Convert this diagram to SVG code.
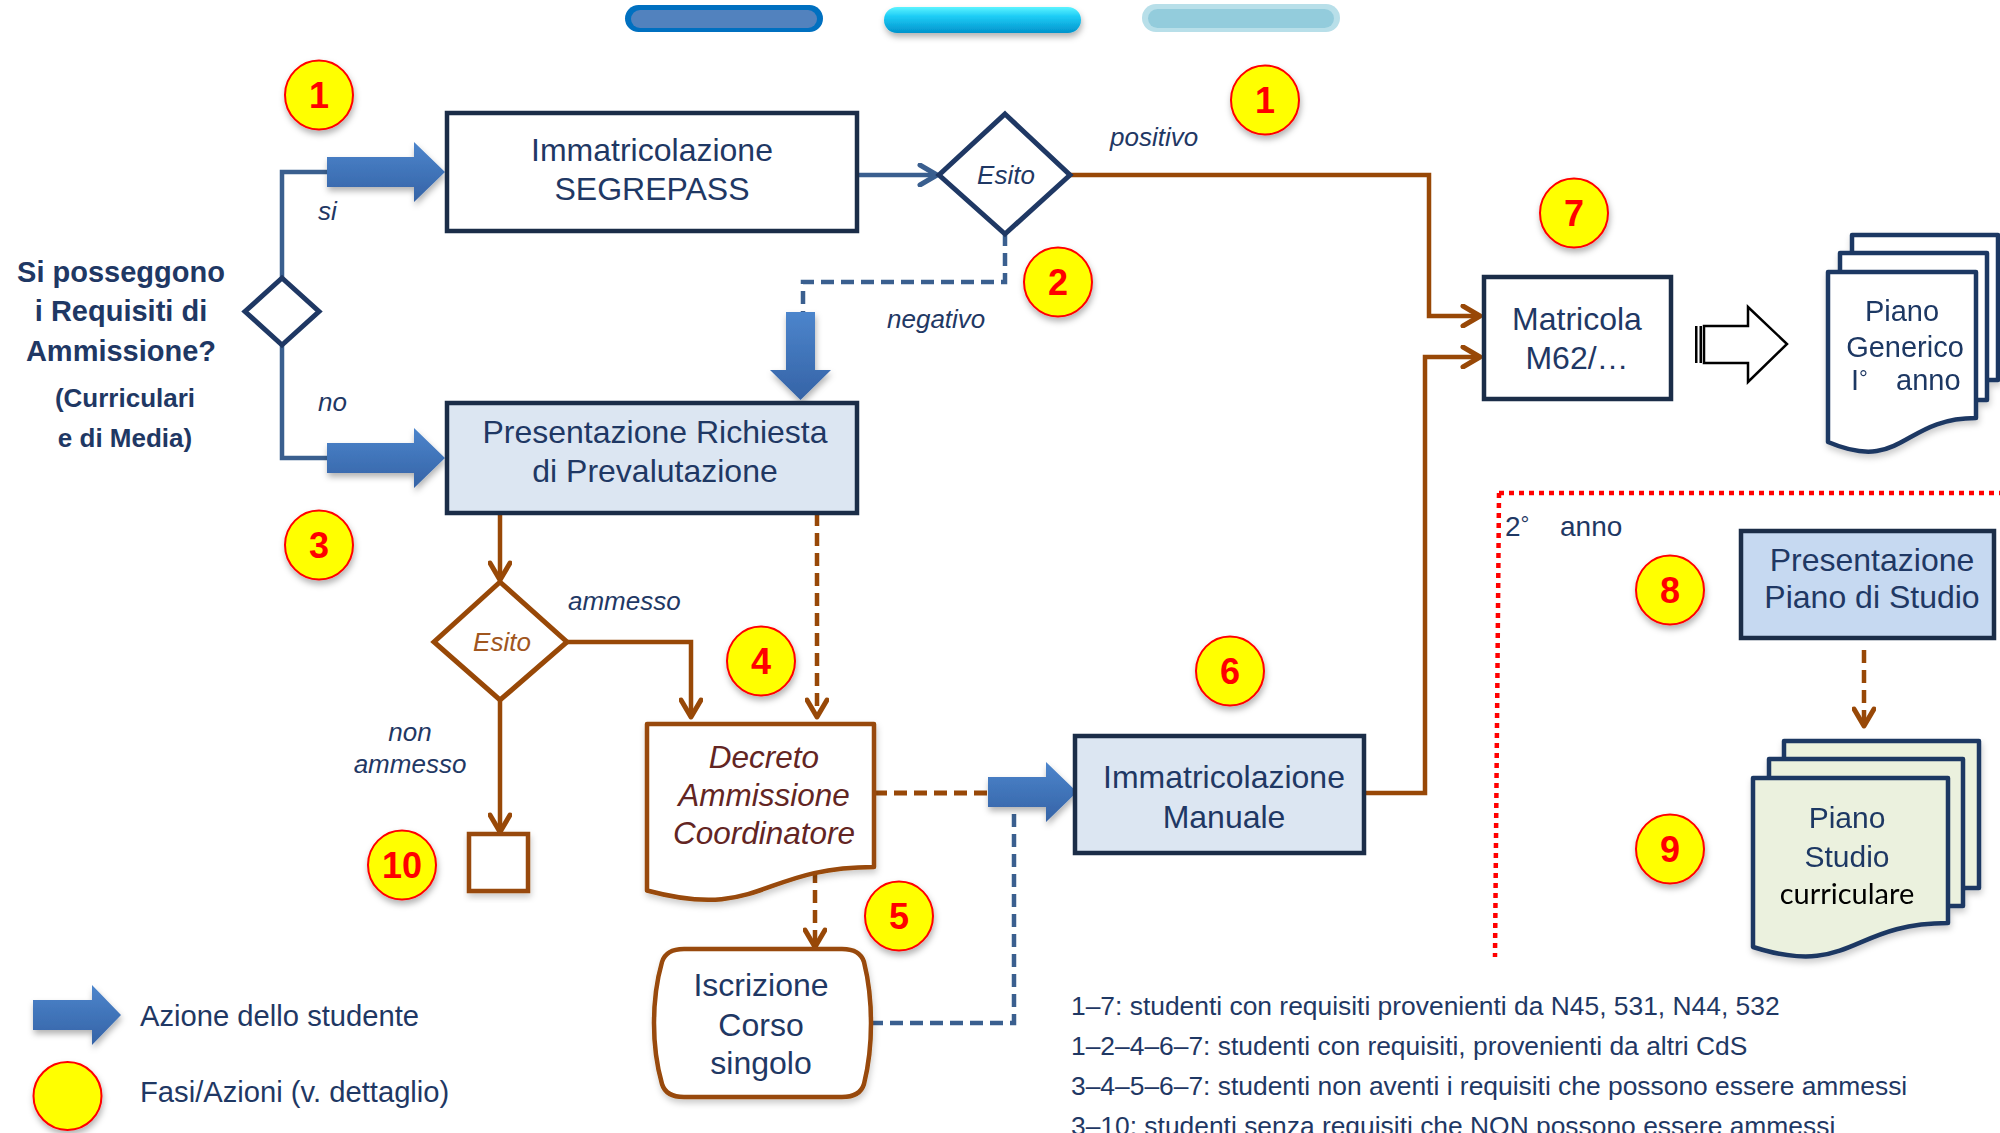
<svg xmlns="http://www.w3.org/2000/svg" width="2000" height="1133" viewBox="0 0 2000 1133">
<defs>
<style>
.t{font-family:"Liberation Sans",Arial,sans-serif;fill:#1F3864}
.tb{font-size:32px;text-anchor:middle}
.it{font-style:italic;font-size:26px}
.q{font-weight:bold;text-anchor:middle}
.bx{stroke:#1B2D48;stroke-width:4.5}
.doc{stroke:#1F3864;stroke-width:4.5;stroke-linejoin:round}
.br{fill:none;stroke:#984807;stroke-width:4.5}
.bl{fill:none;stroke:#3A5F8F;stroke-width:4.5}
.dash{stroke-dasharray:13 7}
.blk{fill:url(#gBlk);filter:url(#sh)}
.cc{fill:#FFFF00;stroke:#FF0000;stroke-width:2;filter:url(#sh)}
.cn{font-family:"Liberation Sans",Arial,sans-serif;font-weight:bold;font-size:36px;fill:#FF0000;text-anchor:middle}
.note{font-size:26.4px}
</style>
<linearGradient id="gBlk" x1="0" y1="0" x2="0" y2="1">
<stop offset="0" stop-color="#4C85CC"/>
<stop offset="1" stop-color="#3563A6"/>
</linearGradient>
<linearGradient id="gCy" x1="0" y1="0" x2="0" y2="1">
<stop offset="0" stop-color="#5CF4FF"/>
<stop offset="0.35" stop-color="#1FCDF6"/>
<stop offset="1" stop-color="#0093CC"/>
</linearGradient>
<filter id="sh" x="-30%" y="-30%" width="170%" height="180%">
<feDropShadow dx="1" dy="4" stdDeviation="3" flood-color="#000" flood-opacity="0.3"/>
</filter>
<filter id="shs" x="-10%" y="-10%" width="130%" height="130%">
<feDropShadow dx="1" dy="4" stdDeviation="3" flood-color="#000" flood-opacity="0.2"/>
</filter>
<marker id="aBr" markerUnits="userSpaceOnUse" viewBox="0 0 24 24" markerWidth="24" markerHeight="24" refX="21" refY="12" orient="auto">
<path d="M4,2 L21,12 L4,22" fill="none" stroke="#984807" stroke-width="5" stroke-linecap="round" stroke-linejoin="round"/>
</marker>
<marker id="aBl" markerUnits="userSpaceOnUse" viewBox="0 0 24 24" markerWidth="24" markerHeight="24" refX="21" refY="12" orient="auto">
<path d="M4,2 L21,12 L4,22" fill="none" stroke="#3A5F8F" stroke-width="5" stroke-linecap="round" stroke-linejoin="round"/>
</marker>
</defs>
<rect width="2000" height="1133" fill="#FFFFFF"/>

<!-- top bars -->
<g id="bars">
<rect x="625" y="5" width="198" height="27" rx="13.5" fill="#0070C0"/>
<rect x="631" y="10" width="186" height="18" rx="9" fill="#5282BE"/>
<rect x="884" y="7" width="197" height="26" rx="13" fill="url(#gCy)" filter="url(#sh)"/>
<rect x="1142" y="4" width="198" height="28" rx="14" fill="#B8DFE9"/>
<rect x="1148" y="9" width="186" height="19" rx="9.5" fill="#93CCDC"/>
</g>

<!-- connectors -->
<g id="connectors">
<path class="bl" d="M282,278 V172 H330"/>
<path class="bl" d="M282,345 V458 H330"/>
<path class="bl" d="M857,175 H937" marker-end="url(#aBl)"/>
<path class="br" d="M1070,175 H1429 V316 H1480" marker-end="url(#aBr)"/>
<path class="bl dash" d="M1005,233 V282 H803 V314"/>
<path class="br" d="M500,513 V580" marker-end="url(#aBr)"/>
<path class="br" d="M567,642 H691 V717" marker-end="url(#aBr)"/>
<path class="br dash" d="M817,513 V717" marker-end="url(#aBr)"/>
<path class="br" d="M500,700 V832" marker-end="url(#aBr)"/>
<path class="br dash" d="M815,870 V947" marker-end="url(#aBr)"/>
<path class="br dash" d="M874,793 H992" style="stroke-width:5"/>
<path class="bl dash" d="M870,1023 H1014 V808"/>
<path class="br" d="M1364,793 H1425 V357 H1480" marker-end="url(#aBr)"/>
<path class="br dash" d="M1864,650 V726" marker-end="url(#aBr)"/>
<path class="blk" d="M327,157 H414 V142 L445,172 L414,202 V187 H327 Z"/>
<path class="blk" d="M327,443 H414 V428 L445,458 L414,488 V473 H327 Z"/>
<path class="blk" d="M786,312 H815 V370 H831 L800.5,400 L770,370 H786 Z"/>
<path class="blk" d="M988,777 H1046 V762 L1077,792 L1046,822 V807 H988 Z"/>
<g id="hollow-arrow">
<rect x="1695" y="326" width="2.5" height="37" fill="#000"/>
<rect x="1699.5" y="326" width="2.5" height="37" fill="#000"/>
<path d="M1704,326 H1748 V307 L1787,344 L1748,382 V363 H1704 Z" fill="#FFFFFF" stroke="#000" stroke-width="2.5" stroke-linejoin="miter"/>
</g>
</g>

<!-- question -->
<g id="question">
<text class="t q" x="121" y="282" font-size="29">Si posseggono</text>
<text class="t q" x="121" y="321" font-size="29">i Requisiti di</text>
<text class="t q" x="121" y="361" font-size="29">Ammissione?</text>
<text class="t q" x="125" y="407" font-size="26">(Curriculari</text>
<text class="t q" x="125" y="447" font-size="26">e di Media)</text>
<path d="M282,278 L319,311.5 L282,345 L245,311.5 Z" fill="#FFFFFF" stroke="#1F3864" stroke-width="5" stroke-linejoin="miter"/>
<text class="t it" x="318" y="220">si</text>
<text class="t it" x="318" y="411">no</text>
</g>

<g id="segrepass">
<rect class="bx" x="447" y="113" width="410" height="118" fill="#FFFFFF"/>
<text class="t tb" x="652" y="161">Immatricolazione</text>
<text class="t tb" x="652" y="200">SEGREPASS</text>
</g>

<g id="esito1">
<path d="M1005,114 L1070,175 L1005,234 L939,175 Z" fill="#FFFFFF" stroke="#1F3864" stroke-width="5"/>
<text class="t it" x="1006" y="184" text-anchor="middle">Esito</text>
<text class="t it" x="1110" y="146">positivo</text>
<text class="t it" x="887" y="328">negativo</text>
</g>

<g id="prevalutazione">
<rect class="bx" x="447" y="403" width="410" height="110" fill="#DCE6F2"/>
<text class="t tb" x="655" y="443">Presentazione Richiesta</text>
<text class="t tb" x="655" y="482">di Prevalutazione</text>
</g>

<g id="esito2">
<path d="M500,582 L567,642 L500,700 L434,642 Z" fill="#FFFFFF" stroke="#984807" stroke-width="5"/>
<text class="it" x="502" y="651" text-anchor="middle" style="font-family:'Liberation Sans',Arial,sans-serif;fill:#A0561E">Esito</text>
<text class="t it" x="568" y="610">ammesso</text>
<text class="t it" x="410" y="741" text-anchor="middle">non</text>
<text class="t it" x="410" y="773" text-anchor="middle">ammesso</text>
</g>

<g id="non-ammesso">
<rect x="469" y="834" width="59" height="57" fill="#FFFFFF" stroke="#984807" stroke-width="4.5" filter="url(#shs)"/>
</g>

<g id="decreto">
<path d="M647,724 H874 V867 C760.5,867 760.5,921 647,890.5 Z" fill="#FFFFFF" stroke="#984807" stroke-width="4.5" stroke-linejoin="round" filter="url(#shs)"/>
<text x="764" y="768" text-anchor="middle" style="font-family:'Liberation Sans',Arial,sans-serif;font-style:italic;font-size:31.5px;fill:#632523">Decreto</text>
<text x="764" y="806" text-anchor="middle" style="font-family:'Liberation Sans',Arial,sans-serif;font-style:italic;font-size:31.5px;fill:#632523">Ammissione</text>
<text x="764" y="844" text-anchor="middle" style="font-family:'Liberation Sans',Arial,sans-serif;font-style:italic;font-size:31.5px;fill:#632523">Coordinatore</text>
</g>

<g id="iscrizione">
<path d="M684,949 H842 Q860,949 864,962 Q871,990 871,1023 Q871,1056 864,1084 Q860,1097 842,1097 H684 Q666,1097 662,1084 Q654,1056 654,1023 Q654,990 662,962 Q666,949 684,949 Z" fill="#FFFFFF" stroke="#984807" stroke-width="4.5" filter="url(#shs)"/>
<text class="t tb" x="761" y="996">Iscrizione</text>
<text class="t tb" x="761" y="1036">Corso</text>
<text class="t tb" x="761" y="1074">singolo</text>
</g>

<g id="manuale">
<rect class="bx" x="1075" y="736" width="289" height="117" fill="#DCE6F2"/>
<text class="t tb" x="1224" y="788">Immatricolazione</text>
<text class="t tb" x="1224" y="828">Manuale</text>
</g>

<g id="matricola">
<rect class="bx" x="1484" y="277" width="187" height="122" fill="#FFFFFF"/>
<text class="t tb" x="1577" y="330" font-size="31">Matricola</text>
<text class="t tb" x="1577" y="369" font-size="31">M62/…</text>
</g>

<g id="piano-generico" filter="url(#shs)">
<rect class="doc" x="1852" y="235" width="146" height="145" fill="#FFFFFF"/>
<rect class="doc" x="1840" y="253" width="147" height="147" fill="#FFFFFF"/>
<path class="doc" d="M1828,272 H1976 V418 C1902,418 1902,473.5 1828,442 Z" fill="#FFFFFF"/>
<text class="t" x="1902" y="321" font-size="29" text-anchor="middle">Piano</text>
<text class="t" x="1905" y="357" font-size="29" text-anchor="middle">Generico</text>
<text class="t" x="1851" y="390" font-size="29">I<tspan font-size="22" dy="-4">°</tspan></text>
<text class="t" x="1896" y="390" font-size="29">anno</text>
</g>

<g id="secondo-anno">
<path d="M1499,493 H2000 M1499,493 L1495,957" fill="none" stroke="#FF0000" stroke-width="4.5" stroke-dasharray="5 5"/>
<text class="t" x="1505" y="536" font-size="28">2<tspan font-size="22" dy="-4">°</tspan></text>
<text class="t" x="1560" y="536" font-size="28">anno</text>
</g>

<g id="piano-studio-box">
<rect class="bx" x="1741" y="531" width="253" height="107" fill="#C6D9F1"/>
<text class="t tb" x="1872" y="571">Presentazione</text>
<text class="t tb" x="1872" y="608">Piano di Studio</text>
</g>

<g id="piano-studio-doc" filter="url(#shs)">
<rect class="doc" x="1784" y="741" width="195" height="147" fill="#EBF1DE"/>
<rect class="doc" x="1769" y="759" width="194" height="147" fill="#EBF1DE"/>
<path class="doc" d="M1753,778 H1948 V923 C1850.5,923 1850.5,978 1753,947 Z" fill="#EBF1DE"/>
<text class="t" x="1847" y="828" font-size="30" text-anchor="middle">Piano</text>
<text class="t" x="1847" y="867" font-size="30" text-anchor="middle">Studio</text>
<text x="1847" y="904" text-anchor="middle" style="font-family:Lato,'Open Sans',sans-serif;font-size:29px;fill:#000000">curriculare</text>
</g>

<!-- circles -->
<g id="c1a"><ellipse class="cc" cx="319" cy="95" rx="34" ry="34.5"/><text class="cn" x="319" y="108">1</text></g>
<g id="c1b"><ellipse class="cc" cx="1265" cy="100" rx="34" ry="34.5"/><text class="cn" x="1265" y="113">1</text></g>
<g id="c2"><ellipse class="cc" cx="1058" cy="282" rx="34" ry="34.5"/><text class="cn" x="1058" y="295">2</text></g>
<g id="c3"><ellipse class="cc" cx="319" cy="545" rx="34" ry="34.5"/><text class="cn" x="319" y="558">3</text></g>
<g id="c4"><ellipse class="cc" cx="761" cy="661" rx="34" ry="34.5"/><text class="cn" x="761" y="674">4</text></g>
<g id="c5"><ellipse class="cc" cx="899" cy="916" rx="34" ry="34.5"/><text class="cn" x="899" y="929">5</text></g>
<g id="c6"><ellipse class="cc" cx="1230" cy="671" rx="34" ry="34.5"/><text class="cn" x="1230" y="684">6</text></g>
<g id="c7"><ellipse class="cc" cx="1574" cy="213" rx="34" ry="34.5"/><text class="cn" x="1574" y="226">7</text></g>
<g id="c8"><ellipse class="cc" cx="1670" cy="590" rx="34" ry="34.5"/><text class="cn" x="1670" y="603">8</text></g>
<g id="c9"><ellipse class="cc" cx="1670" cy="849" rx="34" ry="34.5"/><text class="cn" x="1670" y="862">9</text></g>
<g id="c10"><ellipse class="cc" cx="402" cy="865" rx="34" ry="34.5"/><text class="cn" x="402" y="878">10</text></g>

<!-- legend -->
<g id="legend">
<path class="blk" d="M33,1000 H92 V985 L121,1015 L92,1045 V1030 H33 Z"/>
<text class="t" x="140" y="1026" font-size="29.2">Azione dello studente</text>
<ellipse class="cc" cx="67.5" cy="1096" rx="34" ry="34"/>
<text class="t" x="140" y="1102" font-size="29.2">Fasi/Azioni (v. dettaglio)</text>
</g>

<g id="notes">
<text class="t note" x="1071" y="1015">1–7: studenti con requisiti provenienti da N45, 531, N44, 532</text>
<text class="t note" x="1071" y="1055">1–2–4–6–7: studenti con requisiti, provenienti da altri CdS</text>
<text class="t note" x="1071" y="1095">3–4–5–6–7: studenti non aventi i requisiti che possono essere ammessi</text>
<text class="t note" x="1071" y="1135">3–10: studenti senza requisiti che NON possono essere ammessi</text>
</g>
</svg>
